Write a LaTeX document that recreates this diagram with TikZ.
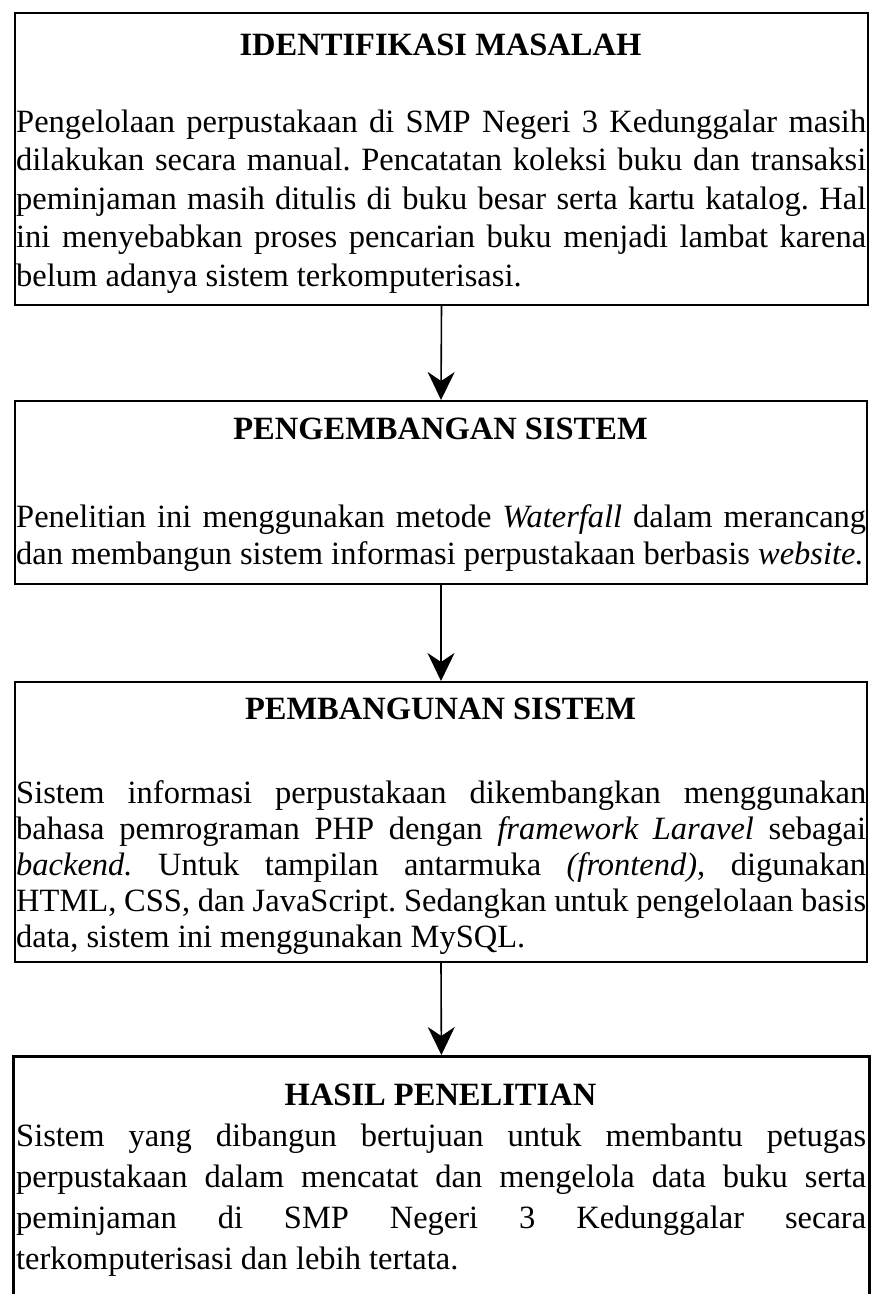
\documentclass[tikz,border=0pt]{standalone}
\usepackage{fontspec}
\setmainfont{Liberation Serif}
\usetikzlibrary{arrows.meta}
\newcommand\bodyset{\frenchspacing\hyphenpenalty=10000 \emergencystretch=20pt\relax}
\newcommand\bodytext[1]{\parbox[t]{850pt}{\bodyset #1}}
\begin{document}
\begin{tikzpicture}[x=1pt,y=-1pt,
  box/.style={draw, line width=2pt, inner sep=0pt, anchor=north west},
  ttl/.style={font=\fontsize{32.5}{38}\selectfont\bfseries, inner sep=0pt, anchor=base},
  body/.style={inner sep=0pt, anchor=base west, font=\fontsize{32.5}{#1}\selectfont},
  body/.default=38.5,
  arr/.style={line width=1.6pt, -{Stealth[length=28pt,width=27pt,inset=9pt]}}]
\useasboundingbox (0,0) rectangle (873,1294);
\fill[white] (0,0) rectangle (873,1294);

% box 1
\node[box, minimum width=853pt, minimum height=292pt] (b1) at (14,12) {};
\node[ttl] (t1) at (440.5,55) {IDENTIFIKASI MASALAH};
\node[body=38.5] (p1) at (16,132) {\bodytext{Pengelolaan perpustakaan di SMP Negeri 3 Kedunggalar masih\linebreak
dilakukan secara manual. Pencatatan koleksi buku dan transaksi\linebreak
peminjaman masih ditulis di buku besar serta kartu katalog. Hal\linebreak
ini menyebabkan proses pencarian buku menjadi lambat karena\linebreak
belum adanya sistem terkomputerisasi.}};

% box 2
\node[box, minimum width=852pt, minimum height=183pt] (b2) at (14,400) {};
\node[ttl] (t2) at (440.5,439) {PENGEMBANGAN SISTEM};
\node[body=37] (p2) at (16,527) {\bodytext{Penelitian ini menggunakan metode \emph{Waterfall} dalam merancang\linebreak
dan membangun sistem informasi perpustakaan berbasis \emph{website.}}};

% box 3
\node[box, minimum width=852pt, minimum height=280pt] (b3) at (14,681) {};
\node[ttl] (t3) at (440.5,719) {PEMBANGUNAN SISTEM};
\node[body=36] (p3) at (16,803) {\bodytext{Sistem informasi perpustakaan dikembangkan menggunakan\linebreak
bahasa pemrograman PHP dengan \emph{framework Laravel} sebagai\linebreak
\emph{backend.} Untuk tampilan antarmuka \emph{(frontend)}, digunakan\linebreak
HTML, CSS, dan JavaScript. Sedangkan untuk pengelolaan basis\linebreak
data, sistem ini menggunakan MySQL.}};

% box 4
\node[box, line width=2.8pt, minimum width=856pt, minimum height=250pt] (b4) at (12,1055) {};
\node[ttl] (t4) at (440.5,1105) {HASIL PENELITIAN};
\node[body=41] (p4) at (16,1146) {\bodytext{Sistem yang dibangun bertujuan untuk membantu petugas\linebreak
perpustakaan dalam mencatat dan mengelola data buku serta\linebreak
peminjaman di SMP Negeri 3 Kedunggalar secara\linebreak
terkomputerisasi dan lebih tertata.}};

% connectors
\draw[arr] (b1.south) -- (b2.north);
\draw[arr] (b2.south) -- (b3.north);
\draw[arr] (b3.south) -- (b4.north);
\end{tikzpicture}
\end{document}
